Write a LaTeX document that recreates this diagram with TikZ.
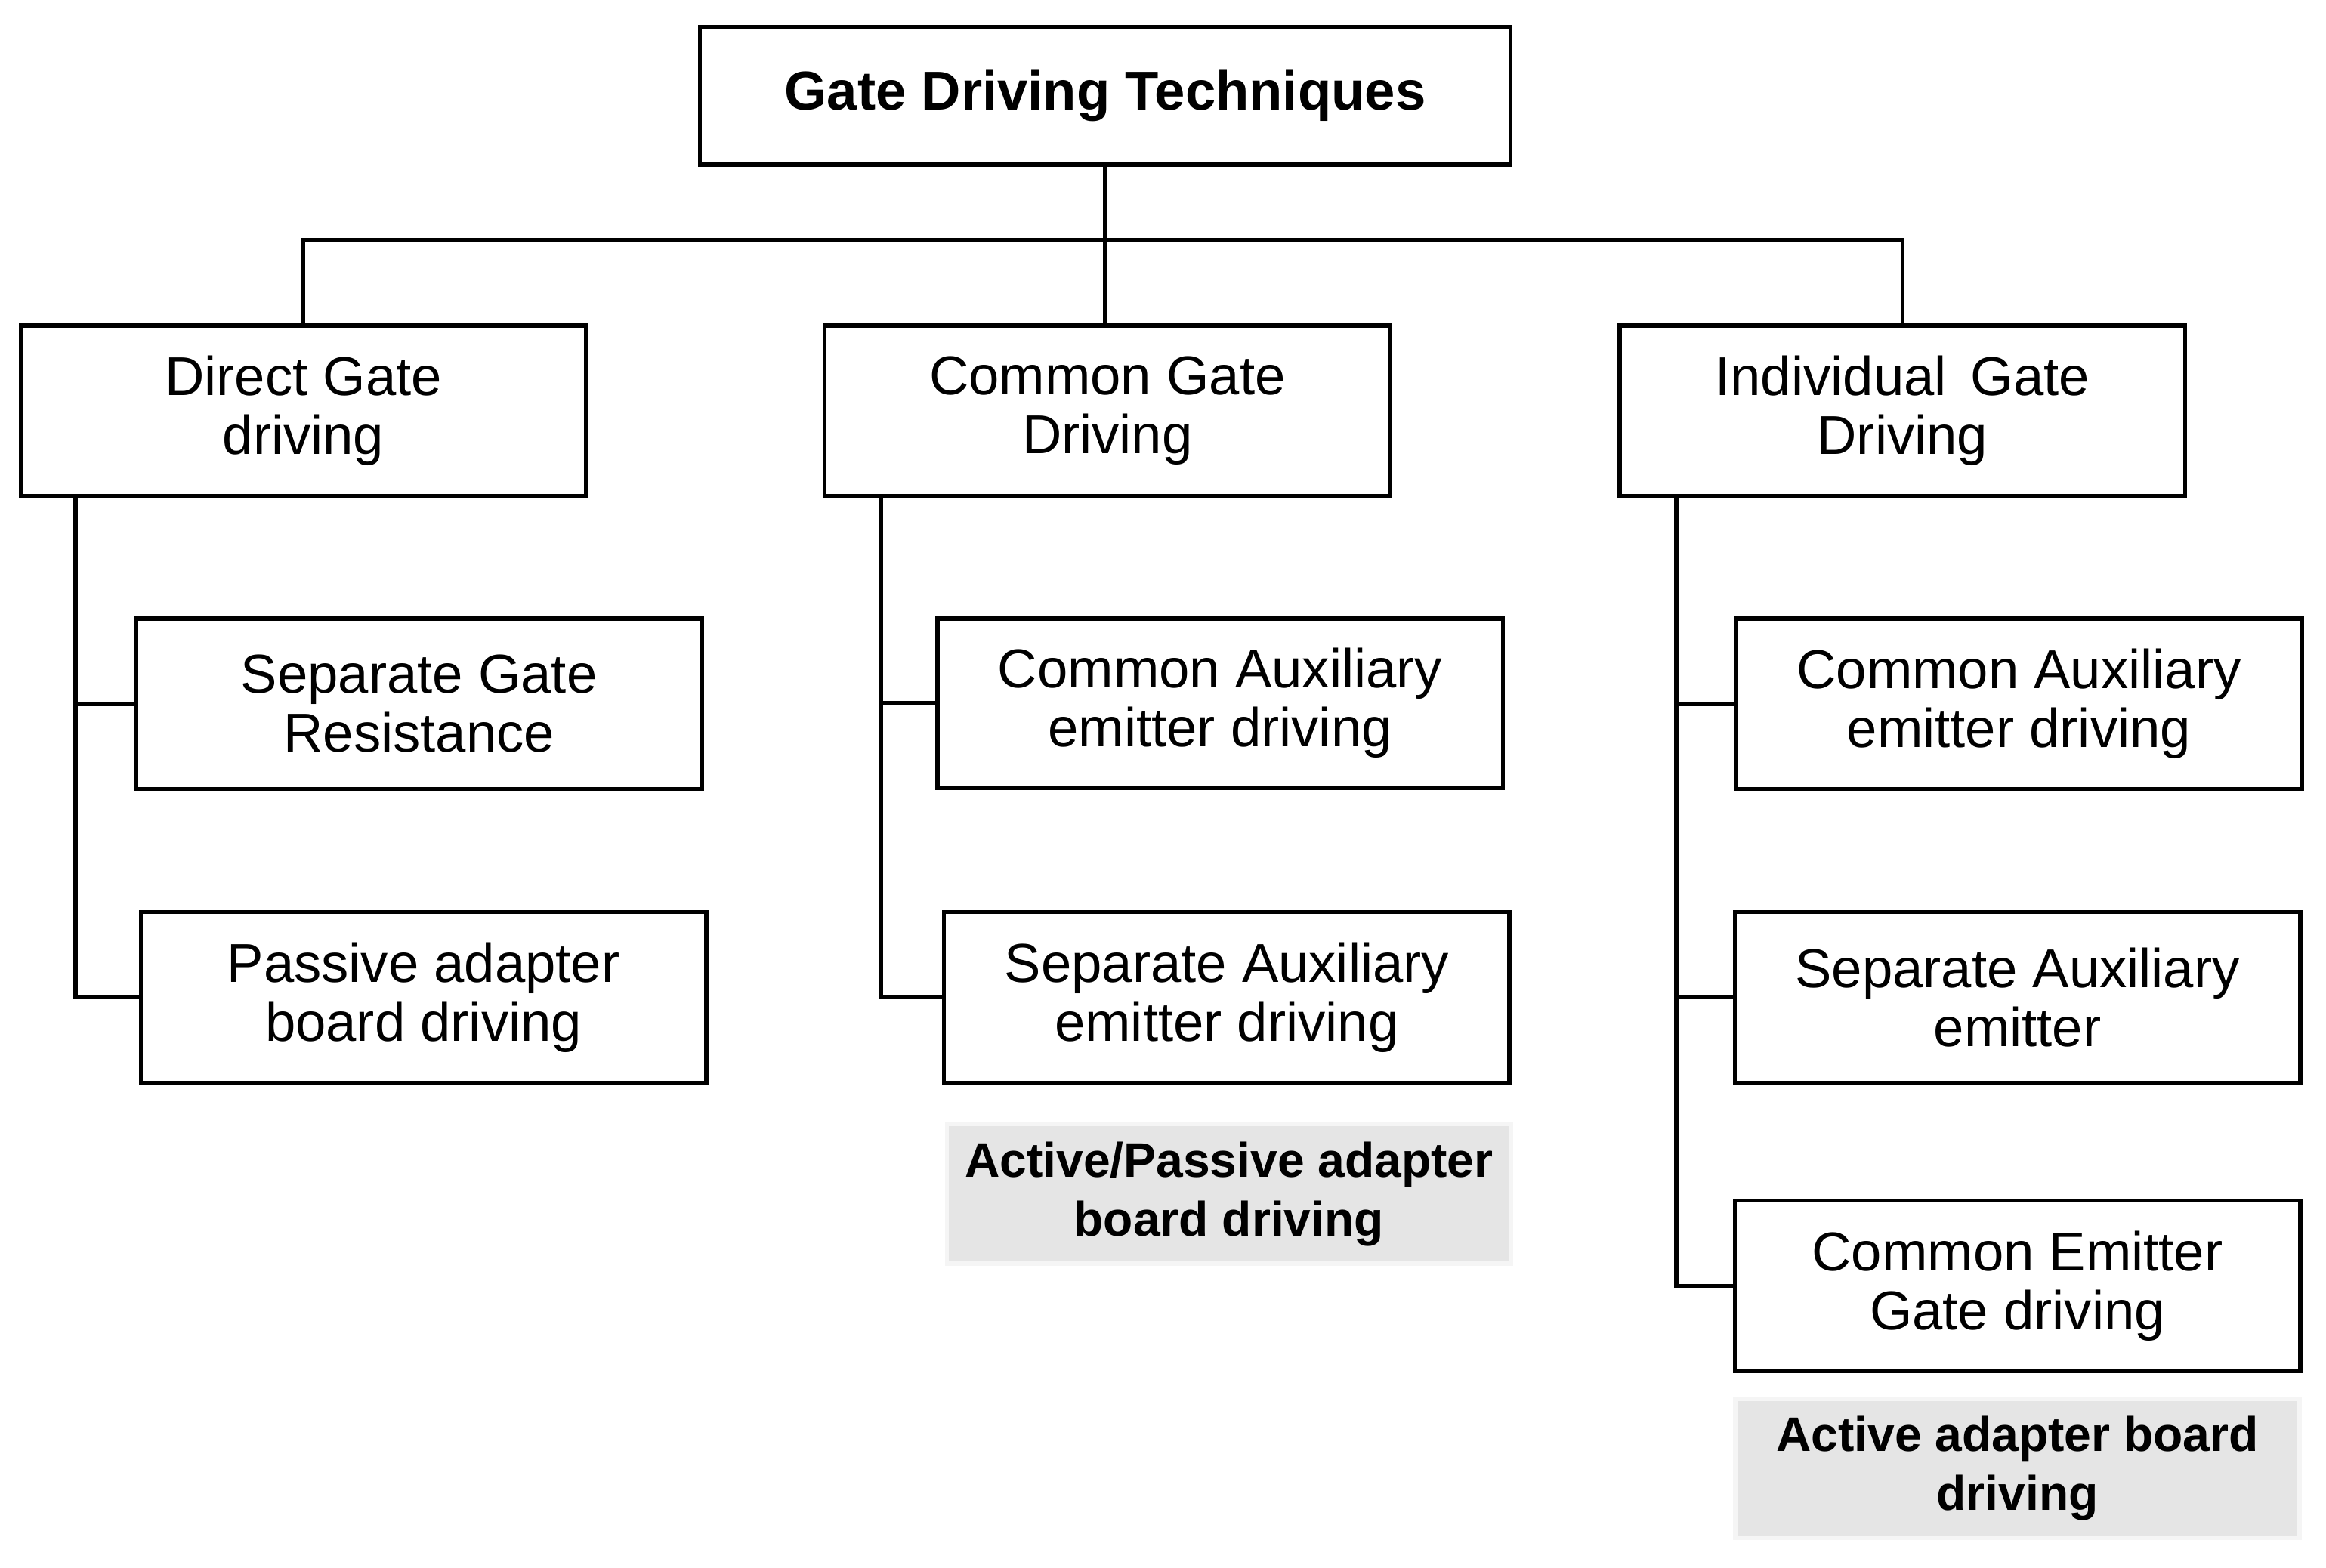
\documentclass[tikz,border=0pt]{standalone}
\usepackage{fontspec}
\setmainfont{Liberation Sans}
\begin{document}
\begin{tikzpicture}[x=0.01cm, y=-0.01cm,
    box/.style={draw, line width=0.8pt, minimum width=3.81cm, minimum height=1.15cm,
      align=center, font=\fontsize{10.5}{11.3}\selectfont},
    note/.style={fill=black!10, draw=black!4, line width=0.8pt, minimum width=3.8cm,
      minimum height=0.9cm, align=center, font=\bfseries\fontsize{9.3}{11.3}\selectfont},
    link/.style={line width=0.8pt}]
  \useasboundingbox (0,0) rectangle (1568,1057);
  % Top level
  \node[box, minimum width=5.46cm, minimum height=0.93cm, font=\bfseries\fontsize{10.5}{11.3}\selectfont]
    (root) at (745,64.5) {Gate Driving Techniques};
  \node[box] (dgd) at (204.5,277) {Direct Gate\\driving};
  \node[box] (cgd) at (746.5,277) {Common Gate\\Driving};
  \node[box] (igd) at (1282.5,277) {Individual\, Gate\\Driving};
  % Direct gate branch
  \node[box] (sgr) at (282.5,474.5) {Separate Gate\\Resistance};
  \node[box] (pab) at (285.5,672.5) {Passive adapter\\board driving};
  % Common gate branch
  \node[box, minimum height=1.14cm] (cae) at (822.5,474) {Common Auxiliary\\emitter driving};
  \node[box] (sae) at (827,672.5) {Separate Auxiliary\\emitter driving};
  \node[note] (apn) at (828.5,805) {Active/Passive adapter\\board driving};
  % Individual gate branch
  \node[box] (icae) at (1361,474.5) {Common Auxiliary\\emitter driving};
  \node[box] (isae) at (1360,672.5) {Separate Auxiliary\\emitter};
  \node[box] (ceg) at (1360,867) {Common Emitter\\Gate driving};
  \node[note] (aab) at (1360,990) {Active adapter board\\driving};
  % Connectors
  \coordinate (bus) at (745,162);
  \coordinate (t1) at (51,0);
  \coordinate (t2) at (594,0);
  \coordinate (t3) at (1130,0);
  \draw[link] (root.south) -- (root.south |- cgd.north);
  \draw[link] (dgd.north) |- (bus) -| (igd.north);
  \draw[link] (dgd.south -| t1) |- (pab.west);
  \draw[link] (t1 |- sgr.west) -- (sgr.west);
  \draw[link] (cgd.south -| t2) |- (sae.west);
  \draw[link] (t2 |- cae.west) -- (cae.west);
  \draw[link] (igd.south -| t3) |- (ceg.west);
  \draw[link] (t3 |- icae.west) -- (icae.west);
  \draw[link] (t3 |- isae.west) -- (isae.west);
\end{tikzpicture}
\end{document}
